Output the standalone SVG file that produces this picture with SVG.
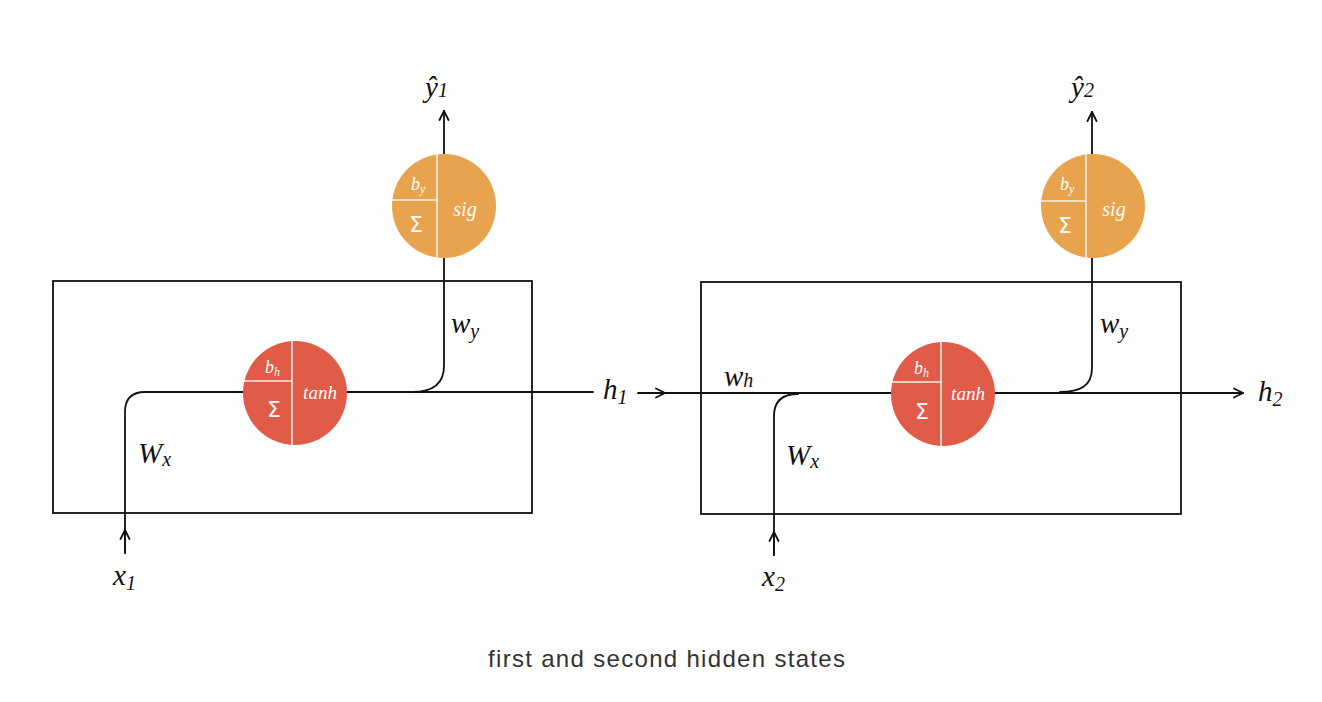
<svg xmlns="http://www.w3.org/2000/svg" width="1322" height="702" viewBox="0 0 1322 702">
<style>
.ln{fill:none;stroke:#111;stroke-width:1.8;stroke-linecap:round}
.box{fill:none;stroke:#111;stroke-width:1.8}
.red{fill:#E05B48}
.org{fill:#E8A34E}
.div{stroke:#fbeee6;stroke-width:1.6;fill:none}
.lbl{font-family:"Liberation Serif","DejaVu Serif",serif;font-style:italic;fill:#111;font-size:29px}
.in{font-family:"Liberation Serif","DejaVu Serif",serif;font-style:italic;fill:#fff}
.sg{font-family:"DejaVu Sans","Liberation Sans",sans-serif;fill:#fff;font-size:22px}
.cap{font-family:"Liberation Sans","DejaVu Sans",sans-serif;fill:#333;font-size:24px}
</style>
<defs>
<marker id="arr" viewBox="0 0 12 12" refX="11" refY="6" markerWidth="12" markerHeight="12" markerUnits="userSpaceOnUse" orient="auto">
<path d="M2,1.5 L11,6 L2,10.5" fill="none" stroke="#111" stroke-width="1.8" stroke-linecap="round" stroke-linejoin="round"/>
</marker>
</defs>
<rect width="1322" height="702" fill="#fff"/>

<g id="cell1">
<rect class="box" x="53" y="281" width="479" height="232"/>
</g>
<g id="cell2">
<rect class="box" x="701" y="282" width="480" height="232"/>
</g>

<g id="connectors">
<path class="ln" d="M125,553 L125,412 Q125,392 145,392 L244,392"/>
<path class="ln" d="M125,553 L125,530" marker-end="url(#arr)"/>
<path class="ln" d="M347,392 L593,392"/>
<path class="ln" d="M444,257 L444,366 C444,385 432,392 412,392"/>
<path class="ln" d="M444,155 L444,111" marker-end="url(#arr)"/>
<path class="ln" d="M638,393 L665,393" marker-end="url(#arr)"/>
<path class="ln" d="M665,393 L892,393"/>
<path class="ln" d="M774,555 L774,416 Q774,394 798,394"/>
<path class="ln" d="M774,555 L774,532" marker-end="url(#arr)"/>
<path class="ln" d="M995,393 L1243,393" marker-end="url(#arr)"/>
<path class="ln" d="M1092,257 L1092,368 C1092,386 1080,392 1060,392"/>
<path class="ln" d="M1092,155 L1092,112" marker-end="url(#arr)"/>
</g>

<g id="tanh1">
<circle class="red" cx="295" cy="393" r="52"/>
<path class="div" d="M292,341 L292,445 M244,381 L292,381"/>
<text class="in" x="265" y="373" font-size="18">b<tspan font-size="12" dy="3">h</tspan></text>
<text class="sg" x="267" y="417">Σ</text>
<text class="in" x="320" y="399" font-size="19" text-anchor="middle">tanh</text>
</g>
<g id="sig1">
<circle class="org" cx="444" cy="206" r="52"/>
<path class="div" d="M437,154 L437,258 M392,200 L437,200"/>
<text class="in" x="411" y="190" font-size="18">b<tspan font-size="12" dy="3">y</tspan></text>
<text class="sg" x="409" y="232">Σ</text>
<text class="in" x="465" y="216" font-size="20" text-anchor="middle">sig</text>
</g>
<g id="tanh2">
<circle class="red" cx="943" cy="394" r="52"/>
<path class="div" d="M941,342 L941,446 M891,382 L941,382"/>
<text class="in" x="914" y="374" font-size="18">b<tspan font-size="12" dy="3">h</tspan></text>
<text class="sg" x="915" y="419">Σ</text>
<text class="in" x="968" y="400" font-size="19" text-anchor="middle">tanh</text>
</g>
<g id="sig2">
<circle class="org" cx="1093" cy="206" r="52"/>
<path class="div" d="M1086,154 L1086,258 M1041,201 L1086,201"/>
<text class="in" x="1060" y="190" font-size="18">b<tspan font-size="12" dy="3">y</tspan></text>
<text class="sg" x="1058" y="233">Σ</text>
<text class="in" x="1114" y="216" font-size="20" text-anchor="middle">sig</text>
</g>

<g id="labels">
<text class="lbl" x="425" y="97">ŷ<tspan font-size="20">1</tspan></text>
<text class="lbl" x="1071" y="97">ŷ<tspan font-size="20">2</tspan></text>
<text class="lbl" x="451" y="333">w<tspan font-size="20" dy="5">y</tspan></text>
<text class="lbl" x="1100" y="333">w<tspan font-size="20" dy="5">y</tspan></text>
<text class="lbl" x="138" y="463">W<tspan font-size="20" dy="3">x</tspan></text>
<text class="lbl" x="786" y="465">W<tspan font-size="20" dy="3">x</tspan></text>
<text class="lbl" x="724" y="386">w<tspan font-size="20" dy="1">h</tspan></text>
<text class="lbl" x="603" y="399">h<tspan font-size="20" dy="5">1</tspan></text>
<text class="lbl" x="1258" y="401">h<tspan font-size="20" dy="5">2</tspan></text>
<text class="lbl" x="113" y="585">x<tspan font-size="20" dy="5">1</tspan></text>
<text class="lbl" x="762" y="586">x<tspan font-size="20" dy="5">2</tspan></text>
</g>

<text class="cap" x="488" y="667" textLength="357" lengthAdjust="spacing">first and second hidden states</text>
</svg>
